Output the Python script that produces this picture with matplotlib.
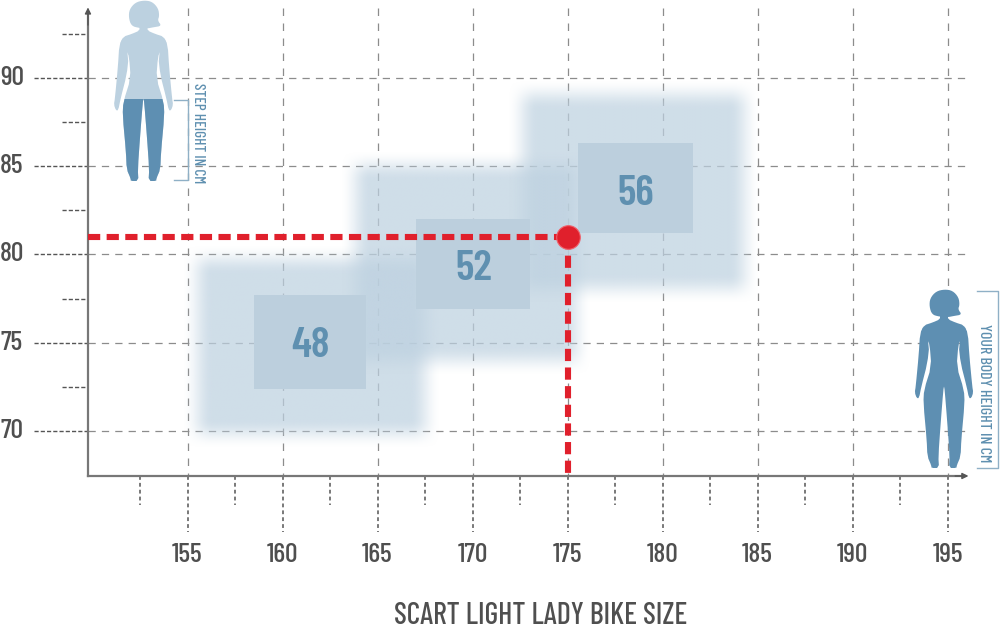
import numpy as np
import matplotlib
matplotlib.use('Agg')
import matplotlib.pyplot as plt
from matplotlib.patches import Polygon, Rectangle
from matplotlib.colors import to_rgb

plt.rcParams['font.family'] = ['Barlow Condensed', 'Roboto Condensed', 'Liberation Sans', 'DejaVu Sans']

# chart values
x_major = [155, 160, 165, 170, 175, 180, 185, 190, 195]
x_minor = [152.5, 157.5, 162.5, 167.5, 172.5, 177.5, 182.5, 187.5, 192.5]
y_major = [70, 75, 80, 85, 90]
y_minor = [72.5, 77.5, 82.5, 87.5, 92.5]
sizes = ['48', '52', '56']
size_x = [161.45, 170.08, 178.6]
size_y = [74.8, 79.2, 83.4]
inner_x0 = [158.5, 167.0, 175.55]
inner_x1 = [164.4, 173.0, 181.6]
inner_y0 = [72.4, 76.9, 81.2]
inner_y1 = [77.7, 82.0, 86.3]
outer_x0 = [154.7, 163.05, 171.8]
outer_x1 = [168.3, 176.3, 185.1]
outer_y0 = [69.0, 73.1, 77.2]
outer_y1 = [80.6, 85.85, 89.9]
your_height = 175
your_step = 81

GRAY = '#8c8c8c'
DARK = '#555555'
TEXT = '#4f4f4f'
RED = '#e0202c'
BLUE_TEXT = '#5f90b0'
BODY = '#5e8fb2'
BODY_LIGHT = '#bcd1e0'

fig = plt.figure(figsize=(10, 6.29), dpi=100)
ax = fig.add_axes([0, 0, 1, 1])
ax.axis('off')
xlim = (145.13, 197.76)
ylim = (58.78, 94.42)


def ramp(t):
    t = np.clip(t, 0, 1)
    return t * t * (3 - 2 * t)


def soft_box(x0, x1, y0, y1, color, alpha, blur_x=1.6, blur_y=1.7):
    xs = np.linspace(x0, x1, 300)
    ys = np.linspace(y0, y1, 300)
    mx = ramp((xs - x0) / blur_x) * ramp((x1 - xs) / blur_x)
    my = ramp((ys - y0) / blur_y) * ramp((y1 - ys) / blur_y)
    rgba = np.zeros((300, 300, 4))
    rgba[..., :3] = to_rgb(color)
    rgba[..., 3] = alpha * np.outer(my, mx)
    ax.imshow(rgba, extent=(x0, x1, y0, y1), origin='lower',
              aspect='auto', zorder=2, interpolation='bilinear')


# grid and ticks
for x in x_major:
    ax.plot([x, x], [93.97, 67.45], c=GRAY, lw=0.9, dashes=(6, 6), zorder=1)
    ax.plot([x, x], [67.45, 64.3], c=DARK, lw=1.1, dashes=(2.5, 2), zorder=1)
for x in x_minor:
    ax.plot([x, x], [67.45, 65.8], c=DARK, lw=1.1, dashes=(2.5, 2), zorder=1)
for y in y_major:
    ax.plot([149.76, 196.1], [y, y], c=GRAY, lw=0.9, dashes=(5.8, 4.9), zorder=1)
    ax.plot([146.9, 149.76], [y, y], c=DARK, lw=1, dashes=(3, 1.5), zorder=1)
for y in y_minor:
    ax.plot([148.4, 149.76], [y, y], c=DARK, lw=1, dashes=(3, 1.5), zorder=1)

# size zones
for i in range(3):
    soft_box(outer_x0[i], outer_x1[i], outer_y0[i], outer_y1[i], '#bdd1e0', 0.72)
for i in range(3):
    ax.add_patch(Rectangle((inner_x0[i], inner_y0[i]), inner_x1[i] - inner_x0[i],
                           inner_y1[i] - inner_y0[i], fc='#bccfdd', ec='none', zorder=3))
    ax.text(size_x[i], size_y[i], sizes[i], color=BLUE_TEXT, fontsize=31, fontweight='semibold',
            ha='center', va='center', zorder=4)

# axes lines
ax.plot([149.76, 149.76], [67.45, 93.6], c='#777777', lw=1.6, zorder=5)
ax.plot([149.76, 195.9], [67.45, 67.45], c='#777777', lw=1.6, zorder=5)
ax.annotate('', xy=(149.76, 94.0), xytext=(149.76, 93.0), zorder=5,
            arrowprops=dict(arrowstyle='-|>', color='#555555', lw=1, mutation_scale=9, shrinkA=0, shrinkB=0))
ax.annotate('', xy=(196.1, 67.45), xytext=(195.4, 67.45), zorder=5,
            arrowprops=dict(arrowstyle='-|>', color='#555555', lw=1, mutation_scale=9, shrinkA=0, shrinkB=0))

# your position
ax.plot([149.76, your_height], [your_step, your_step], c=RED, lw=4.4, dashes=(2, 1.05), zorder=6,
        dash_capstyle='butt')
ax.plot([your_height, your_height], [your_step, 67.45], c=RED, lw=4.4, dashes=(2, 1.05), zorder=6,
        dash_capstyle='butt')
ax.plot([your_height], [your_step], 'o', ms=17, mfc=RED, mec='#f0606a', mew=0.8, zorder=7)

# tick labels
for x in x_major:
    ax.text(x, 63.0, str(x), color=TEXT, fontsize=20, fontweight='medium', ha='center', va='center')
for y in y_major:
    ax.text(145.75, y, str(y), color=TEXT, fontsize=20, fontweight='medium', ha='center', va='center')
ax.text(173.6, 59.5, 'SCART LIGHT LADY BIKE SIZE', color=TEXT, fontsize=21.5, fontweight='medium',
        ha='center', va='center')

ax.set_xlim(xlim)
ax.set_ylim(ylim)

# overlay in pixels for the figures
px = fig.add_axes([0, 0, 1, 1], facecolor='none')
px.axis('off')
px.set_xlim(0, 1000)
px.set_ylim(629, 0)

# half body outline: dx from centre, dy from top of head, figure height 535
torso_half = [(0, 70), (12, 75), (12, 88), (35, 98), (60, 106), (68, 125), (50, 150), (43, 165),
              (38, 230), (60, 300), (62, 340), (52, 450), (50, 500), (38, 528), (38, 535),
              (15, 535), (17, 500), (10, 400), (2, 300), (0, 290)]
arm_half = [(60, 106), (72, 130), (76, 195), (85, 290), (88, 308), (82, 325), (75, 325), (68, 290),
            (50, 220), (44, 165)]
hair = [(2, -2), (26, 2), (44, 22), (47, 45), (42, 58), (54, 74), (30, 78), (10, 82), (-14, 80),
        (-36, 74), (-44, 50), (-42, 25), (-24, 4)]


def chaikin(pts, n=2):
    pts = np.array(pts, dtype=float)
    for _ in range(n):
        nxt = np.roll(pts, -1, axis=0)
        pts = np.column_stack([0.75 * pts + 0.25 * nxt, 0.25 * pts + 0.75 * nxt]).reshape(-1, 2)
    return pts


def person(cx, top, h, body_color, leg_color=None, split=None):
    s = h / 535.0
    half = [(dx, dy) for dx, dy in torso_half]
    outline = half + [(-dx, dy) for dx, dy in reversed(half)]
    body = chaikin([(cx + dx * s, top + dy * s) for dx, dy in outline], 1)
    px.add_patch(Polygon(body, closed=True, fc=body_color, ec='none', zorder=3))
    px.add_patch(Polygon(chaikin([(cx + dx * s, top + dy * s) for dx, dy in hair]), closed=True,
                         fc=body_color, ec='none', zorder=3))
    for side in (1, -1):
        arm = chaikin([(cx + side * dx * s, top + dy * s) for dx, dy in arm_half], 1)
        px.add_patch(Polygon(arm, closed=True, fc=body_color, ec='none', zorder=3))
    if leg_color:
        legs = Polygon(body, closed=True, fc=leg_color, ec='none', zorder=4)
        px.add_patch(legs)
        clip = Rectangle((cx - 60, split), 120, top + h - split + 2, transform=px.transData)
        legs.set_clip_path(clip)


person(143.5, 1, 180, BODY_LIGHT, BODY, 99)
person(944, 290, 178, BODY)

# measure brackets
line = dict(c='#8fb0c6', lw=1, zorder=3)
px.plot([173.5, 187.5, 187.5, 173.5], [99.5, 99.5, 180, 180], **line)
px.plot([977, 997.5, 997.5, 977], [290.5, 290.5, 468, 468], **line)
px.text(198, 133, 'STEP HEIGHT IN CM', color=BLUE_TEXT, fontsize=11, fontweight='medium', rotation=-90,
        ha='center', va='center')
px.text(984.5, 393, 'YOUR BODY HEIGHT IN CM', color=BLUE_TEXT, fontsize=11.5, fontweight='medium', rotation=-90,
        ha='center', va='center')

plt.savefig('out.png', dpi=100)
